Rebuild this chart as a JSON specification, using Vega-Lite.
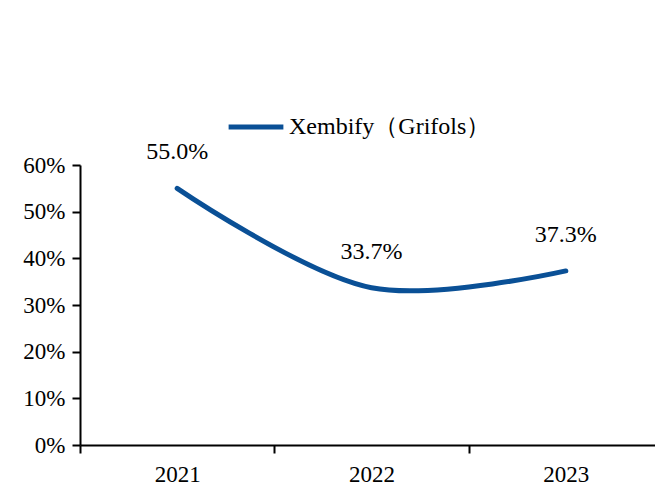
{
  "$schema": "https://vega.github.io/schema/vega-lite/v6.json",
  "autosize": {"type": "none"},
  "padding": {"left": 80, "top": 165, "right": 0, "bottom": 42},
  "width": 575,
  "height": 280,
  "background": "white",
  "config": {
    "view": {"stroke": null},
    "font": "Liberation Serif"
  },
  "data": {
    "values": [
      {"year": "2021", "series": "Xembify（Grifols）", "value": 0.55, "label": "55.0%"},
      {"year": "2022", "series": "Xembify（Grifols）", "value": 0.337, "label": "33.7%"},
      {"year": "2023", "series": "Xembify（Grifols）", "value": 0.373, "label": "37.3%"}
    ]
  },
  "encoding": {
    "x": {
      "field": "year", "type": "nominal",
      "scale": {"range": [0, 583], "paddingInner": 0, "paddingOuter": 0},
      "axis": {
        "title": null, "tickBand": "extent", "labelAngle": 0,
        "labelFont": "Liberation Serif", "labelFontSize": 23, "labelColor": "black",
        "labelPadding": 10,
        "domainColor": "black", "domainWidth": 2, "tickColor": "black", "tickWidth": 2, "tickSize": 8
      }
    },
    "y": {
      "field": "value", "type": "quantitative",
      "scale": {"domain": [0, 0.6], "nice": false},
      "axis": {
        "title": null, "format": ".0%", "tickCount": 7, "grid": false,
        "labelFont": "Liberation Serif", "labelFontSize": 23, "labelColor": "black",
        "labelPadding": 7,
        "domainColor": "black", "domainWidth": 2, "tickColor": "black", "tickWidth": 2, "tickSize": 8
      }
    }
  },
  "layer": [
    {
      "mark": {"type": "line", "interpolate": "catmull-rom", "strokeWidth": 5, "strokeCap": "round"},
      "encoding": {
        "color": {
          "field": "series", "type": "nominal",
          "scale": {"range": ["#0a5096"]},
          "legend": {
            "title": null, "orient": "none", "legendX": 146, "legendY": -68,
            "symbolType": "stroke", "symbolSize": 3000, "symbolStrokeWidth": 5,
            "labelFont": "Liberation Serif", "labelFontSize": 24, "labelColor": "black",
            "labelOffset": 3, "labelLimit": 400
          }
        }
      }
    },
    {
      "mark": {"type": "text", "dy": -36, "font": "Liberation Serif", "fontSize": 24, "color": "black"},
      "encoding": {"text": {"field": "label"}}
    }
  ]
}
